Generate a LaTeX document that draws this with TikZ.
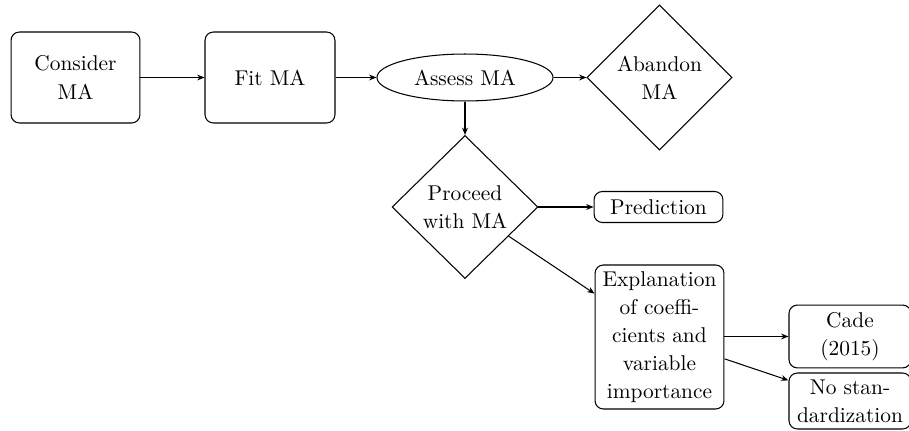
\documentclass[tikz,border=0pt]{standalone}
\usetikzlibrary{shapes.geometric,arrows.meta}
\begin{document}
\begin{tikzpicture}[x=0.477pt,y=-0.477pt,
  every node/.style={font=\fontsize{10.2}{13.4}\selectfont, align=center, inner sep=1pt},
  rbox/.style={draw, rounded corners=4pt, line width=0.5pt},
  ell/.style={draw, ellipse, line width=0.5pt},
  dia/.style={draw, diamond, line width=0.5pt},
  arr/.style={-{Stealth[length=3.5pt,width=2.8pt]}, line width=0.5pt}]
\useasboundingbox (0,0) rectangle (909,431);
\clip (0,0) rectangle (909,431);
\node[rbox, minimum width=61.5pt, minimum height=43.4pt] (consider) at (75.5,77.5) {Consider\\MA};
\node[rbox, minimum width=62pt, minimum height=43.4pt] (fit) at (270,77.5) {Fit MA};
\node[ell, minimum width=84pt, minimum height=22.4pt] (assess) at (465,77.5) {Assess MA};
\node[dia, minimum width=69.2pt, minimum height=69.2pt] (abandon) at (659.5,77.5) {Abandon\\MA};
\node[dia, minimum width=69.6pt, minimum height=68.2pt] (proceed) at (465,207) {Proceed\\with MA};
\node[rbox, minimum width=61.5pt, minimum height=14.8pt] (pred) at (658.5,207) {Prediction};
\node[rbox, minimum width=61.5pt, minimum height=68.7pt] (expl) at (659.5,337) {Explanation\\of coeffi-\\cients and\\variable\\importance};
\node[rbox, minimum width=58.2pt, minimum height=30pt] (cade) at (850,336.5) {Cade\\(2015)};
\node[rbox, minimum width=58.2pt, minimum height=26.7pt] (nostan) at (850,401) {No stan-\\dardization};
\draw[arr] (consider) -- (fit);
\draw[arr] (fit) -- (assess);
\draw[arr] (assess) -- (abandon);
\draw[arr] (assess) -- (proceed);
\draw[arr] (proceed) -- (pred);
\draw[arr] (proceed) -- (expl);
\draw[arr] (expl.east |- cade) -- (cade);
\draw[arr] (expl) -- (nostan);
\end{tikzpicture}
\end{document}
